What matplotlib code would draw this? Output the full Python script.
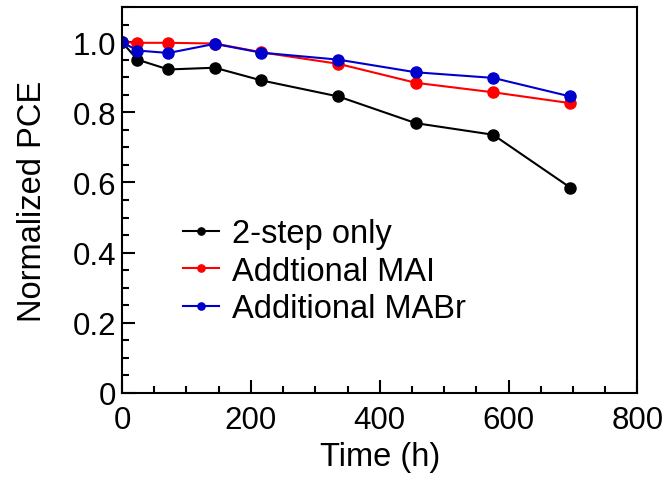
import matplotlib
matplotlib.use('Agg')
import matplotlib.pyplot as plt
from matplotlib.ticker import MultipleLocator

plt.rcParams['font.family'] = ['Liberation Sans', 'DejaVu Sans']

# данные
time_h = [0, 24, 72, 144, 216, 336, 456, 576, 696]
pce_2step = [1.0, 0.950, 0.922, 0.927, 0.891, 0.845, 0.769, 0.736, 0.585]
pce_mai = [1.0, 0.998, 0.998, 0.996, 0.971, 0.938, 0.884, 0.857, 0.826]
pce_mabr = [1.0, 0.976, 0.969, 0.995, 0.970, 0.950, 0.914, 0.898, 0.845]

series = [
    ('2-step only', pce_2step, 'black'),
    ('Addtional MAI', pce_mai, '#ff0000'),
    ('Additional MABr', pce_mabr, '#0000cc'),
]

fig = plt.figure(figsize=(6.68, 4.89), dpi=100)
ax = fig.add_axes([0.1826, 0.1943, 0.7717, 0.7893])

for label, values, color in series:
    ax.plot(time_h, values, '-o', color=color, lw=1.5, ms=8, label=label)

ax.set_xlim(0, 800)
ax.set_ylim(0, 1.1)
ax.xaxis.set_major_locator(MultipleLocator(200))
ax.xaxis.set_minor_locator(MultipleLocator(50))
ax.yaxis.set_minor_locator(MultipleLocator(0.05))
ax.set_yticks([0, 0.2, 0.4, 0.6, 0.8, 1.0])
ax.set_yticklabels(['0', '0.2', '0.4', '0.6', '0.8', '1.0'])

ax.tick_params(which='both', direction='in', width=1.5, labelsize=22.5)
ax.tick_params(axis='x', pad=9)
ax.tick_params(axis='y', pad=4)
ax.tick_params(which='major', length=9.5)
ax.tick_params(which='minor', length=5)
for sp in ax.spines.values():
    sp.set_linewidth(1.5)

ax.set_xlabel('Time (h)', fontsize=23.5, labelpad=4)
ax.set_ylabel('Normalized PCE', fontsize=23.5, labelpad=18)

ax.legend(loc='center left', bbox_to_anchor=(0.118, 0.316), frameon=False,
          fontsize=23.5, handlelength=1.1, handletextpad=0.4, markerscale=0.65,
          labelspacing=0.2, borderpad=0, borderaxespad=0)

fig.savefig('out.png', dpi=100)
